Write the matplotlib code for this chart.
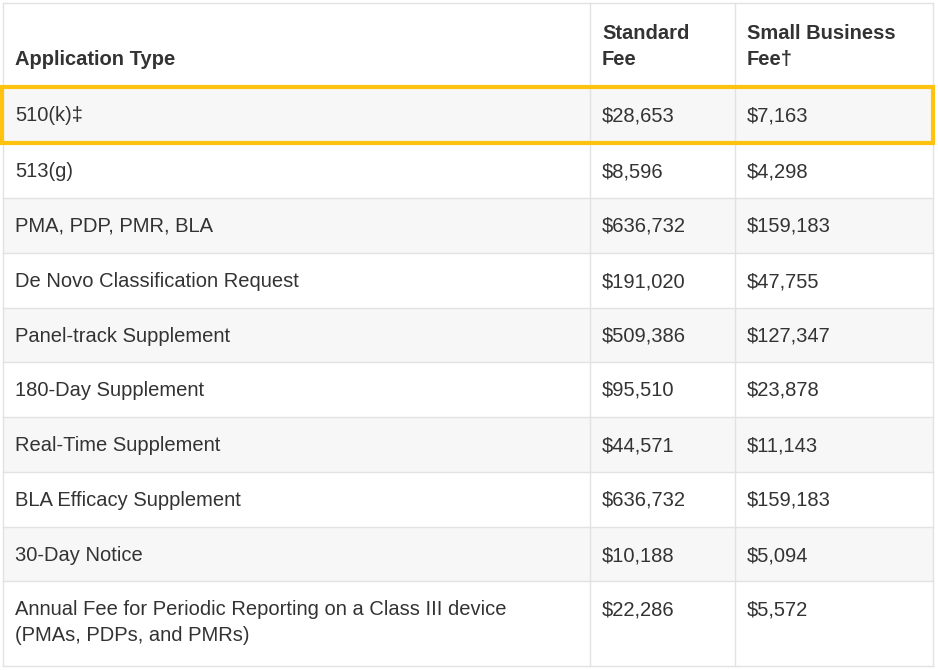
import matplotlib.pyplot as plt
from matplotlib.patches import Rectangle

# table contents
app_types = ['510(k)\u2021', '513(g)', 'PMA, PDP, PMR, BLA', 'De Novo Classification Request',
             'Panel-track Supplement', '180-Day Supplement', 'Real-Time Supplement',
             'BLA Efficacy Supplement', '30-Day Notice',
             'Annual Fee for Periodic Reporting on a Class III device\n(PMAs, PDPs, and PMRs)']
standard_fee = ['$28,653', '$8,596', '$636,732', '$191,020', '$509,386', '$95,510',
                '$44,571', '$636,732', '$10,188', '$22,286']
small_fee = ['$7,163', '$4,298', '$159,183', '$47,755', '$127,347', '$23,878',
             '$11,143', '$159,183', '$5,094', '$5,572']
headers = ['Application Type', 'Standard\nFee', 'Small Business\nFee\u2020']

plt.rcParams['font.family'] = ['Liberation Sans', 'DejaVu Sans']
W, H = 938, 670
fig = plt.figure(figsize=(W / 100, H / 100), dpi=100)
ax = fig.add_axes([0, 0, 1, 1])
ax.set_xlim(0, W)
ax.set_ylim(H, 0)
ax.axis('off')

col_x = [3, 590, 735, 933]
row_y = [3, 87, 143, 198, 253, 308, 362, 417, 472, 527, 581, 666]
line_c = '#e2e2e2'
txt_c = '#333333'
fs = 14.5

for i in range(len(app_types)):
    y0, y1 = row_y[i + 1], row_y[i + 2]
    bg = '#f7f7f7' if i % 2 == 0 else 'white'
    ax.add_patch(Rectangle((col_x[0], y0), col_x[-1] - col_x[0], y1 - y0, fc=bg, ec='none'))

# grid lines
for y in row_y:
    ax.plot([col_x[0], col_x[-1]], [y, y], color=line_c, lw=1)
ax.plot([col_x[0], col_x[-1]], [row_y[1], row_y[1]], color='#dddddd', lw=2)
for x in col_x:
    ax.plot([x, x], [row_y[0], row_y[-1]], color=line_c, lw=1)

for i in range(len(app_types)):
    y0 = row_y[i + 1]
    vals = [app_types[i], standard_fee[i], small_fee[i]]
    for j, v in enumerate(vals):
        ax.text(col_x[j] + 12, y0 + 19, v, fontsize=fs, color=txt_c, va='top', ha='left',
                linespacing=1.45, zorder=5)

for j, h in enumerate(headers):
    ax.text(col_x[j] + 12, row_y[1] - 18, h, fontsize=fs, color=txt_c, fontweight='bold',
            va='bottom', ha='left', linespacing=1.45, zorder=5)

# highlighted first row
ax.add_patch(Rectangle((2, 87), 931, 56, fc='none', ec='#ffc20e', lw=3, zorder=6))

fig.savefig('out.png', dpi=100)
